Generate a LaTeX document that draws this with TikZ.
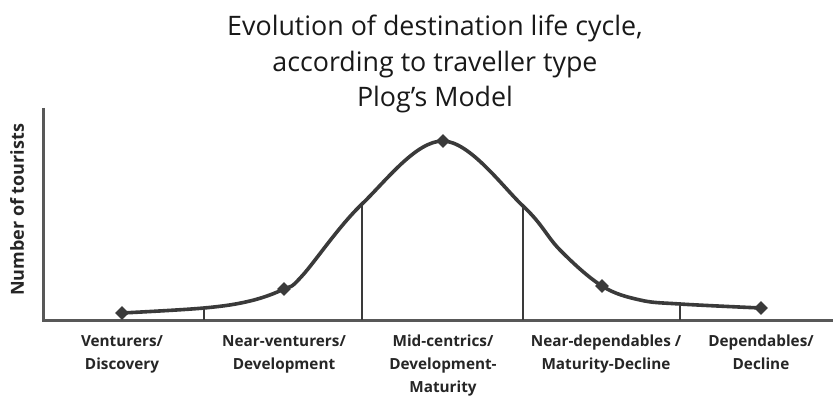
\documentclass[tikz,border=0pt]{standalone}
\usepackage{fontspec}
\setmainfont{Open Sans}
\usetikzlibrary{shapes.geometric}
\definecolor{ink}{HTML}{3A3A3A}
\tikzset{
  mk/.style={diamond,fill=ink,inner sep=0pt,minimum size=14pt},
  curve/.style={draw=ink,line width=3.6pt,line cap=round},
  axis/.style={draw=ink!85,line width=3pt},
  divider/.style={draw=ink,line width=2.8pt},
  lab/.style={align=center,font=\bfseries\fontsize{15.3}{23}\selectfont,inner sep=0pt,text=black!85},
  ttl/.style={align=center,font=\fontsize{26.8}{35.5}\selectfont,inner sep=0pt,text=black!90}
}
\begin{document}
\begin{tikzpicture}[x=1pt,y=-1pt]
\useasboundingbox[fill=white] (0,0) rectangle (833,398);
% title
\node[ttl] (title) at (435,64) {Evolution of destination life cycle,\\according to traveller type\\Plog’s Model};
% axes
\coordinate (o) at (43,320);
\coordinate (ytop) at (43,108);
\coordinate (xend) at (833,320);
\draw[axis] (ytop) -- (o) -- (xend);
\node[lab,rotate=90,font=\bfseries\fontsize{18}{20}\selectfont] (ylab) at (17,210) {Number of tourists};
% curve points
\coordinate (p1) at (122,313);
\coordinate (c1) at (204,308);
\coordinate (p2) at (284,289);
\coordinate (c2) at (362,204);
\coordinate (p3) at (443,141);
\coordinate (c3) at (523,206);
\coordinate (p4) at (602,286);
\coordinate (c4) at (680,304);
\coordinate (p5) at (761,308);
\draw[curve] plot[smooth,tension=0.6] coordinates {(122,313) (204,308) (250,301) (284,289) (302,276) (362,204) (443,141) (523,206) (560,250) (602,286) (640,300) (680,304) (761,308)};
% dividers
\coordinate (b1) at (204,320);
\coordinate (b2) at (362,320);
\coordinate (b3) at (523,320);
\coordinate (b4) at (680,320);
\draw[divider] (c1) -- (b1);
\draw[divider] (c2) -- (b2);
\draw[divider] (c3) -- (b3);
\draw[divider] (c4) -- (b4);
% markers
\node[mk] (m1) at (p1) {};
\node[mk] (m2) at (p2) {};
\node[mk] (m3) at (p3) {};
\node[mk] (m4) at (p4) {};
\node[mk] (m5) at (p5) {};
% labels
\node[lab,anchor=north] (l1) at (122,335) {Venturers/\\Discovery};
\node[lab,anchor=north] (l2) at (284,335) {Near-venturers/\\Development};
\node[lab,anchor=north] (l3) at (443,335) {Mid-centrics/\\Development-\\Maturity};
\node[lab,anchor=north] (l4) at (606,335) {Near-dependables /\\Maturity-Decline};
\node[lab,anchor=north] (l5) at (761,335) {Dependables/\\Decline};
\end{tikzpicture}
\end{document}
